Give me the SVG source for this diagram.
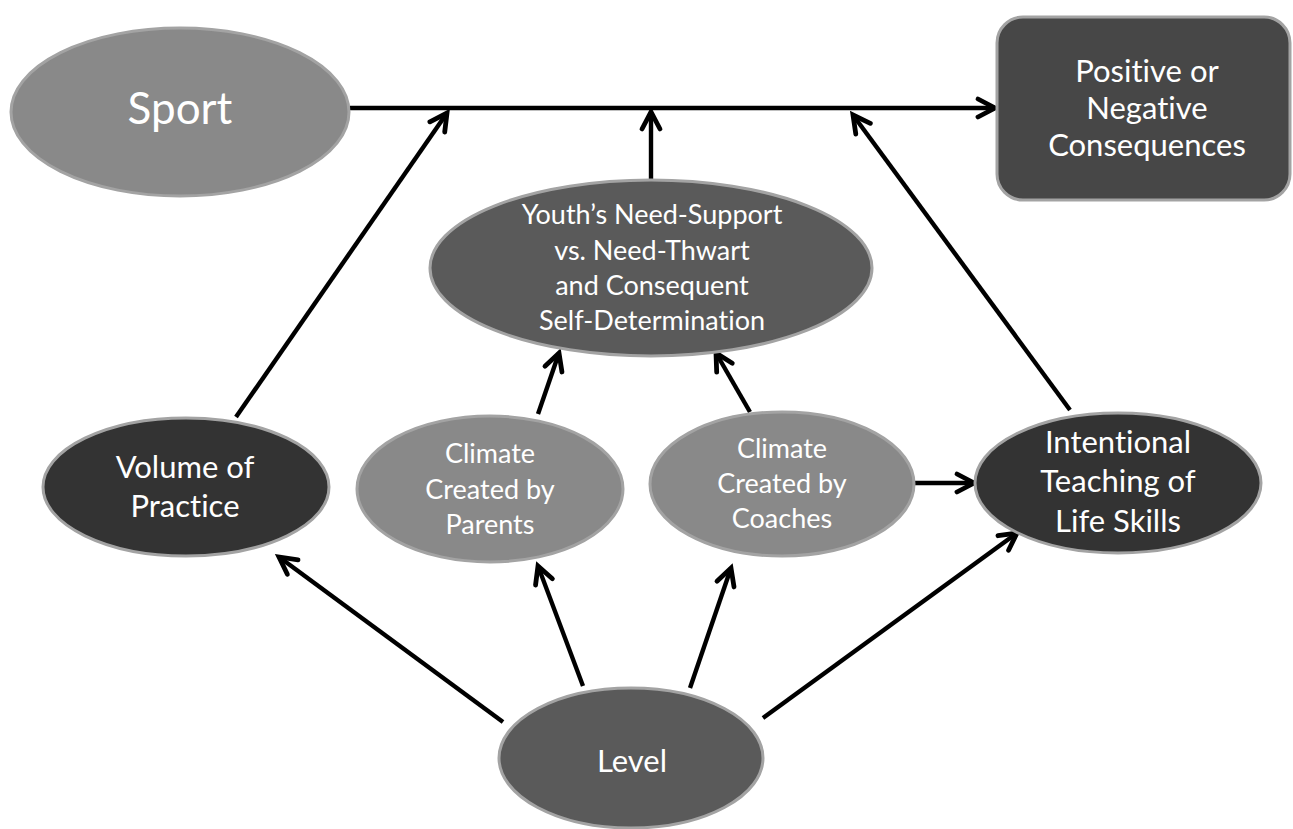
<svg xmlns="http://www.w3.org/2000/svg" width="1293" height="829" viewBox="0 0 1293 829">
<defs>
<marker id="arr" markerUnits="userSpaceOnUse" markerWidth="30" markerHeight="30" viewBox="0 0 30 30" refX="24" refY="15" orient="auto" overflow="visible">
<path d="M7,6 L24,15 L7,24" fill="none" stroke="#000" stroke-width="4.8" stroke-linecap="round" stroke-linejoin="miter"/>
</marker>
<style>
.n{stroke:#a3a3a3;stroke-width:3}
.light{fill:#898989}
.mid{fill:#5a5a5a}
.dark{fill:#333333}
.box{fill:#474747}
text{font-family:Lato,"Liberation Sans",sans-serif;fill:#ffffff;text-anchor:middle;font-variant-ligatures:none;font-feature-settings:"liga" 0}
.c line{stroke:#000;stroke-width:4.4;marker-end:url(#arr)}
</style>
</defs>
<rect width="1293" height="829" fill="#ffffff"/>
<g class="c" id="connectors">
<line x1="350" y1="108" x2="995" y2="108"/>
<line x1="651" y1="181" x2="651" y2="112"/>
<line x1="236" y1="417" x2="447" y2="113"/>
<line x1="1070" y1="410" x2="853" y2="115"/>
<line x1="538" y1="414" x2="559" y2="353"/>
<line x1="750" y1="412" x2="716" y2="353"/>
<line x1="915" y1="483" x2="974" y2="483"/>
<line x1="503" y1="722" x2="279" y2="557"/>
<line x1="583" y1="686" x2="538" y2="566"/>
<line x1="690" y1="688" x2="731" y2="568"/>
<line x1="763" y1="718" x2="1017" y2="533"/>
</g>
<g id="sport">
<ellipse class="n light" cx="180" cy="112" rx="169" ry="84"/>
<text x="180" y="124" font-size="44">Sport</text>
</g>
<g id="consequences">
<rect class="n box" x="997" y="17" width="293" height="183" rx="26"/>
<text x="1147" y="82" font-size="31">Positive or</text>
<text x="1147" y="119" font-size="31">Negative</text>
<text x="1147" y="156" font-size="31">Consequences</text>
</g>
<g id="youth">
<ellipse class="n mid" cx="651" cy="268" rx="221" ry="88"/>
<text x="652" y="224" font-size="27">Youth’s Need-Support</text>
<text x="652" y="259.5" font-size="27">vs. Need-Thwart</text>
<text x="652" y="295" font-size="27">and Consequent</text>
<text x="652" y="330" font-size="27">Self-Determination</text>
</g>
<g id="volume">
<ellipse class="n dark" cx="186" cy="487" rx="143" ry="69"/>
<text x="185" y="478" font-size="31">Volume of</text>
<text x="185" y="517" font-size="31">Practice</text>
</g>
<g id="parents">
<ellipse class="n light" cx="490" cy="489" rx="133" ry="73"/>
<text x="490" y="463" font-size="27">Climate</text>
<text x="490" y="499" font-size="27">Created by</text>
<text x="490" y="534" font-size="27">Parents</text>
</g>
<g id="coaches">
<ellipse class="n light" cx="782" cy="484" rx="132" ry="72"/>
<text x="782" y="458" font-size="27">Climate</text>
<text x="782" y="493" font-size="27">Created by</text>
<text x="782" y="528" font-size="27">Coaches</text>
</g>
<g id="intentional">
<ellipse class="n dark" cx="1118" cy="483" rx="143" ry="70"/>
<text x="1118" y="453" font-size="31">Intentional</text>
<text x="1118" y="492" font-size="31">Teaching of</text>
<text x="1118" y="532" font-size="31">Life Skills</text>
</g>
<g id="level">
<ellipse class="n mid" cx="631" cy="758" rx="132" ry="70"/>
<text x="632" y="772" font-size="31">Level</text>
</g>
</svg>
